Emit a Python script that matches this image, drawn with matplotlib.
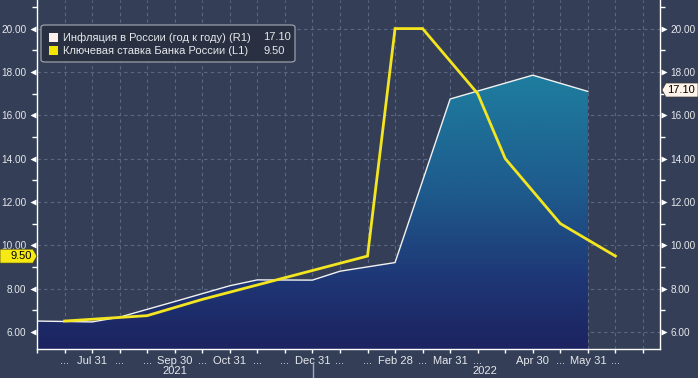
import numpy as np
import matplotlib
matplotlib.use('Agg')
from matplotlib import pyplot as plt
from matplotlib import transforms as mtransforms
from matplotlib.colors import LinearSegmentedColormap
from matplotlib.patches import Polygon, FancyBboxPatch, Rectangle
from matplotlib.lines import Line2D

###############################################################################
# x axis: one slot per observation date (categorical, like the terminal chart)
tick_labels = ['', '...', 'Jul 31', '...', '...', 'Sep 30', '...', 'Oct 31',
               '...', '...', 'Dec 31', '...', '...', 'Feb 28', '...', 'Mar 31',
               '...', '', 'Apr 30', '...', 'May 31', '...', '']
year_labels = ['2021', '2022']

# inflation, y/y (R1)
infl_idx = [0, 2, 3, 5, 7, 8, 10, 11, 13, 15, 18, 20]
infl     = [6.50, 6.46, 6.68, 7.40, 8.13, 8.40, 8.39, 8.80, 9.20, 16.75, 17.85, 17.10]

# key rate of the Bank of Russia (L1)
rate_idx = [1, 4, 6, 9, 12, 13, 14, 16, 17, 19, 21]
rate     = [6.50, 6.75, 7.50, 8.50, 9.50, 20.0, 20.0, 17.0, 14.0, 11.0, 9.50]

infl_name = 'Инфляция в России (год к году) (R1)'
rate_name = 'Ключевая ставка Банка России (L1)'
infl_last = '17.10'
rate_last = '9.50'

###############################################################################
W, H = 698, 378
bg      = '#343f57'
gridcol = '#5b6682'
txtcol  = '#e6e8ec'
yellow  = '#f3e51f'
ylo, yhi = 5.21, 21.32
xlo, xhi = 0, 22.62

plt.rcParams['font.family'] = ['Liberation Sans', 'DejaVu Sans']

def fx(x):
    return x / W

def fy(y):
    return 1 - y / H

fig = plt.figure(figsize=(W / 100, H / 100), dpi=100, facecolor=bg)
ax = fig.add_axes([fx(37), fy(349), (660 - 37) / W, 349 / H])
ax.set_facecolor(bg)
ax.set_xlim(xlo, xhi)
ax.set_ylim(ylo, yhi)

# grid
majors = np.arange(6, 21, 2)
minors = np.arange(7, 22, 2)
for v in majors:
    ax.axhline(v, color=gridcol, lw=0.8, ls=(0, (3, 3)), zorder=1)
for i in range(len(tick_labels)):
    ax.axvline(i, color=gridcol, lw=0.8, ls=(0, (3, 3)), zorder=1)

# gradient fill under inflation
poly = ax.fill_between(infl_idx, infl, ylo, color='none', lw=0, zorder=2)
cmap = LinearSegmentedColormap.from_list('fill', [(0.0, '#1c2360'), (0.25, '#1f3776'),
                                                 (0.55, '#1e5a8c'), (1.0, '#1e80a1')])
grad = np.linspace(0, 1, 256).reshape(-1, 1)
im = ax.imshow(grad, cmap=cmap, origin='lower', aspect='auto',
               extent=[xlo, infl_idx[-1], ylo, 18.2], zorder=2)
im.set_clip_path(poly.get_paths()[0], transform=ax.transData)
ax.set_xlim(xlo, xhi)
ax.set_ylim(ylo, yhi)

ax.plot(infl_idx, infl, color='#f2f2f2', lw=1.0, zorder=3)
ax.plot(rate_idx, rate, color=yellow, lw=2.0, zorder=4, solid_joinstyle='miter')

# spines and ticks
ax.spines['top'].set_visible(False)
for s in ['left', 'right', 'bottom']:
    ax.spines[s].set_color('white')
    ax.spines[s].set_linewidth(1.0)

ax.set_xticks(range(len(tick_labels)))
ax.set_xticklabels(tick_labels)
ax.tick_params(axis='x', colors='white', labelcolor=txtcol, length=3, width=1,
               direction='out', pad=2, labelsize=8)

ax.set_yticks(majors)
ax.set_yticklabels(['%.2f' % v for v in majors])
ax.set_yticks(minors, minor=True)
ax.tick_params(axis='y', which='major', length=0, pad=7.5, labelsize=7.2,
               labelcolor=txtcol, left=True, right=True, labelleft=True, labelright=True)
ax.tick_params(axis='y', which='minor', length=3.5, width=1, color='white',
               direction='out', left=True, right=True)

# triangle markers on y ticks
blend = mtransforms.blended_transform_factory(ax.transAxes, ax.transData)
tl = mtransforms.offset_copy(blend, fig=fig, x=-4, y=0, units='dots')
tr = mtransforms.offset_copy(blend, fig=fig, x=4, y=0, units='dots')
ax.plot(np.zeros(len(majors)), majors, ls='none', marker='<', ms=5, color='white',
        mec='none', transform=tl, clip_on=False, zorder=6)
ax.plot(np.ones(len(majors)), majors, ls='none', marker='>', ms=5, color='white',
        mec='none', transform=tr, clip_on=False, zorder=6)

# year labels and separator
fig.text(fx(175), fy(371), year_labels[0], color=txtcol, fontsize=8, ha='center', va='center')
fig.text(fx(485), fy(371), year_labels[1], color=txtcol, fontsize=8, ha='center', va='center')
fig.add_artist(Line2D([fx(313), fx(313)], [fy(363), fy(378)], color='#a3a8b2', lw=1))

# legend box
fig.add_artist(FancyBboxPatch((fx(41), fy(62)), fx(295 - 41), (62 - 25) / H,
                              boxstyle='round,pad=0,rounding_size=0.006',
                              fc='#283041', ec='#9aa0aa', lw=0.9, zorder=10))
fig.add_artist(Rectangle((fx(49), fy(42)), fx(9), 9 / H, fc='#fdf0ec', ec='none', zorder=11))
fig.add_artist(Rectangle((fx(49), fy(55)), fx(9), 9 / H, fc='#f2e600', ec='none', zorder=11))
fig.text(fx(63), fy(37.5), infl_name, color=txtcol, fontsize=8, va='center', zorder=12)
fig.text(fx(63), fy(50.5), rate_name, color=txtcol, fontsize=8, va='center', zorder=12)
fig.text(fx(263), fy(37.5), infl_last, color=txtcol, fontsize=8, va='center', zorder=12)
fig.text(fx(263), fy(50.5), rate_last, color=txtcol, fontsize=8, va='center', zorder=12)

# last value tags
yt = 28.7 + (20 - 9.5) * 21.66
pts = [(0, yt - 7), (33, yt - 7), (37, yt), (33, yt + 7), (0, yt + 7)]
fig.add_artist(Polygon([(fx(a), fy(b)) for a, b in pts], closed=True, fc='#f7ea14',
                       ec='#3a3a20', lw=0.5, zorder=10))
fig.text(fx(32), fy(yt), rate_last, color='black', fontsize=8, ha='right', va='center', zorder=11)

yt = 28.7 + (20 - 17.1) * 21.66 - 1.5
pts = [(662, yt), (666, yt - 7), (698, yt - 7), (698, yt + 7), (666, yt + 7)]
fig.add_artist(Polygon([(fx(a), fy(b)) for a, b in pts], closed=True, fc='#fff4ea',
                       ec='#3a3a3a', lw=0.5, zorder=10))
fig.text(fx(667), fy(yt), infl_last, color='black', fontsize=8, ha='left', va='center', zorder=11)

fig.savefig('out.png', dpi=100, facecolor=bg)
